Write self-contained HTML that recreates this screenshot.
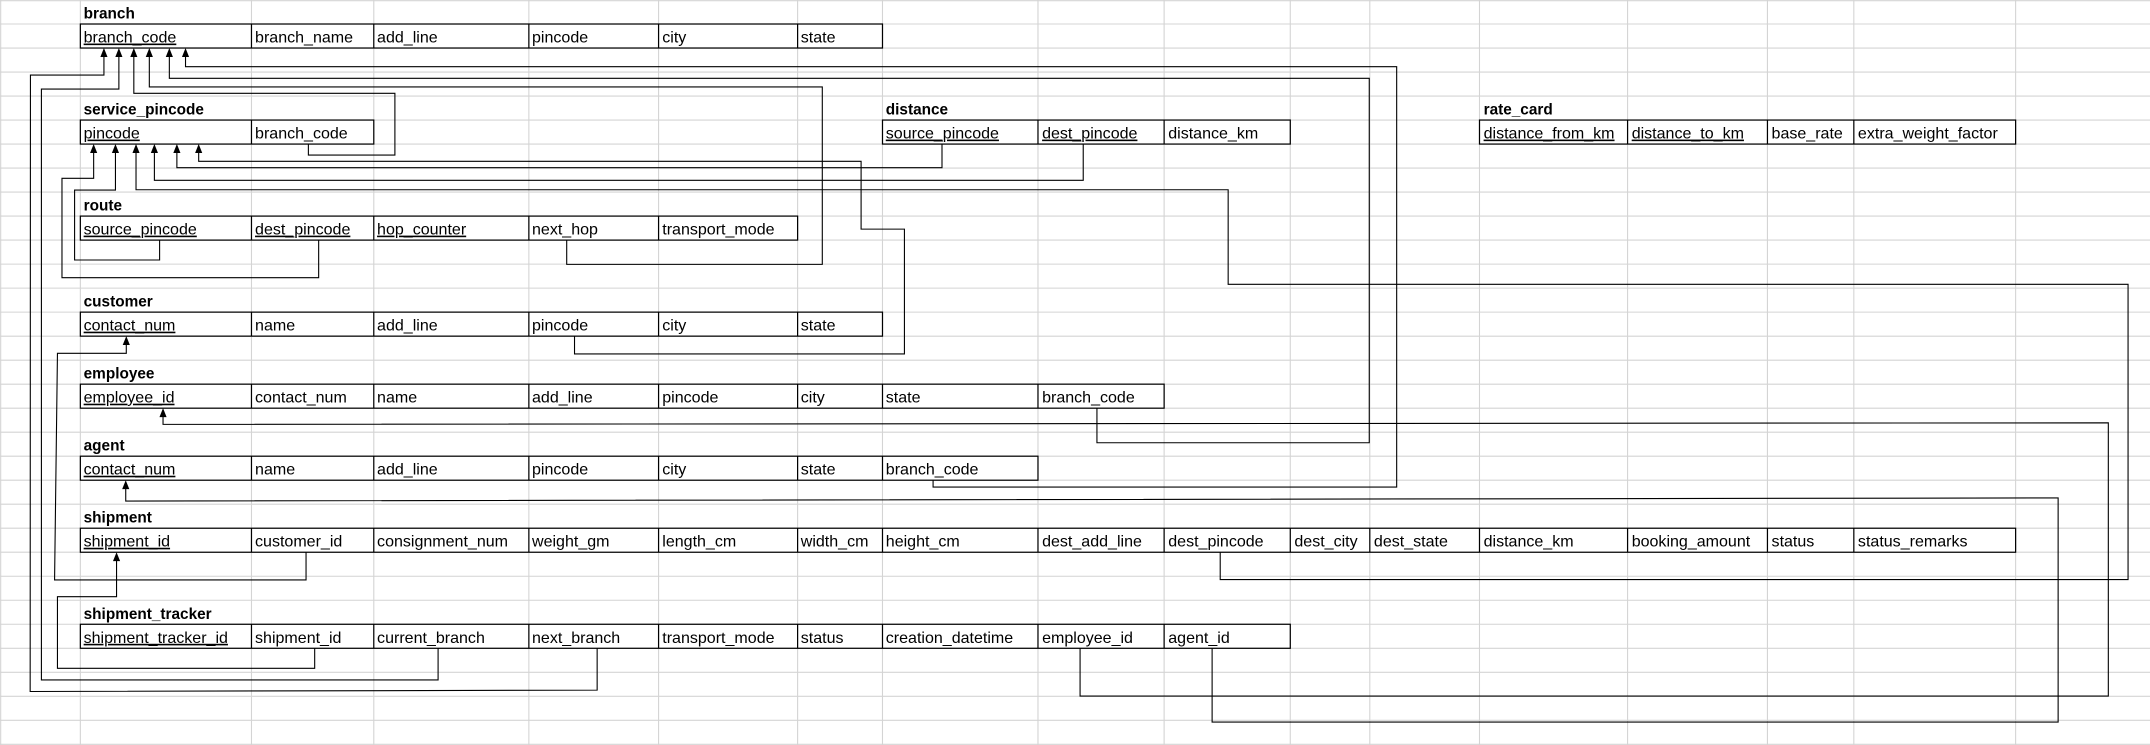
<!DOCTYPE html>
<html><head><meta charset="utf-8"><style>
html,body{margin:0;padding:0;background:#fff;}
svg{display:block;}
text{font-family:"Liberation Sans",Arial,sans-serif;font-size:11.7px;fill:#000;}
.t{font-weight:bold;font-size:11.2px;}
.u{text-decoration:underline;}
.g line{stroke:#d4d4d4;stroke-width:0.8;}
.b rect{fill:none;stroke:#000;stroke-width:0.9;}
.b line{stroke:#000;stroke-width:0.9;}
.c polyline{fill:none;stroke:#000;stroke-width:0.8;}
.c polygon{fill:#000;}
</style></head><body>
<svg width="2150" height="745" viewBox="0 0 1568 543" preserveAspectRatio="none" xmlns="http://www.w3.org/2000/svg">
<rect width="1568" height="543" fill="#fff"/>
<g class="g">
<line x1="0.5" y1="0" x2="0.5" y2="543"/><line x1="58.6" y1="0" x2="58.6" y2="543"/><line x1="183.4" y1="0" x2="183.4" y2="543"/><line x1="272.6" y1="0" x2="272.6" y2="543"/><line x1="385.7" y1="0" x2="385.7" y2="543"/><line x1="480.3" y1="0" x2="480.3" y2="543"/><line x1="581.7" y1="0" x2="581.7" y2="543"/><line x1="643.6" y1="0" x2="643.6" y2="543"/><line x1="757" y1="0" x2="757" y2="543"/><line x1="849" y1="0" x2="849" y2="543"/><line x1="941" y1="0" x2="941" y2="543"/><line x1="999" y1="0" x2="999" y2="543"/><line x1="1079" y1="0" x2="1079" y2="543"/><line x1="1187" y1="0" x2="1187" y2="543"/><line x1="1289" y1="0" x2="1289" y2="543"/><line x1="1352" y1="0" x2="1352" y2="543"/><line x1="1470" y1="0" x2="1470" y2="543"/>
<line x1="0" y1="0.5" x2="1568" y2="0.5"/><line x1="0" y1="17.5" x2="1568" y2="17.5"/><line x1="0" y1="35" x2="1568" y2="35"/><line x1="0" y1="52.5" x2="1568" y2="52.5"/><line x1="0" y1="70" x2="1568" y2="70"/><line x1="0" y1="87.5" x2="1568" y2="87.5"/><line x1="0" y1="105" x2="1568" y2="105"/><line x1="0" y1="122.5" x2="1568" y2="122.5"/><line x1="0" y1="140" x2="1568" y2="140"/><line x1="0" y1="157.5" x2="1568" y2="157.5"/><line x1="0" y1="175" x2="1568" y2="175"/><line x1="0" y1="192.5" x2="1568" y2="192.5"/><line x1="0" y1="210" x2="1568" y2="210"/><line x1="0" y1="227.5" x2="1568" y2="227.5"/><line x1="0" y1="245" x2="1568" y2="245"/><line x1="0" y1="262.5" x2="1568" y2="262.5"/><line x1="0" y1="280" x2="1568" y2="280"/><line x1="0" y1="297.5" x2="1568" y2="297.5"/><line x1="0" y1="315" x2="1568" y2="315"/><line x1="0" y1="332.5" x2="1568" y2="332.5"/><line x1="0" y1="350" x2="1568" y2="350"/><line x1="0" y1="367.5" x2="1568" y2="367.5"/><line x1="0" y1="385" x2="1568" y2="385"/><line x1="0" y1="402.5" x2="1568" y2="402.5"/><line x1="0" y1="420" x2="1568" y2="420"/><line x1="0" y1="437.5" x2="1568" y2="437.5"/><line x1="0" y1="455" x2="1568" y2="455"/><line x1="0" y1="472.5" x2="1568" y2="472.5"/><line x1="0" y1="490" x2="1568" y2="490"/><line x1="0" y1="507.5" x2="1568" y2="507.5"/><line x1="0" y1="525" x2="1568" y2="525"/><line x1="0" y1="542.5" x2="1568" y2="542.5"/>
</g>
<g fill="#fff">
<rect x="58.6" y="17.5" width="585" height="17.5"/><rect x="58.6" y="87.5" width="214" height="17.5"/><rect x="643.6" y="87.5" width="297.4" height="17.5"/><rect x="1079" y="87.5" width="391" height="17.5"/><rect x="58.6" y="157.5" width="523.1" height="17.5"/><rect x="58.6" y="227.5" width="585" height="17.5"/><rect x="58.6" y="280" width="790.4" height="17.5"/><rect x="58.6" y="332.5" width="698.4" height="17.5"/><rect x="58.6" y="385" width="1411.4" height="17.5"/><rect x="58.6" y="455" width="882.4" height="17.5"/>
</g>
<g class="b">
<rect x="58.6" y="17.5" width="585" height="17.5"/><line x1="183.4" y1="17.5" x2="183.4" y2="35"/><line x1="272.6" y1="17.5" x2="272.6" y2="35"/><line x1="385.7" y1="17.5" x2="385.7" y2="35"/><line x1="480.3" y1="17.5" x2="480.3" y2="35"/><line x1="581.7" y1="17.5" x2="581.7" y2="35"/>
<rect x="58.6" y="87.5" width="214" height="17.5"/><line x1="183.4" y1="87.5" x2="183.4" y2="105"/>
<rect x="643.6" y="87.5" width="297.4" height="17.5"/><line x1="757" y1="87.5" x2="757" y2="105"/><line x1="849" y1="87.5" x2="849" y2="105"/>
<rect x="1079" y="87.5" width="391" height="17.5"/><line x1="1187" y1="87.5" x2="1187" y2="105"/><line x1="1289" y1="87.5" x2="1289" y2="105"/><line x1="1352" y1="87.5" x2="1352" y2="105"/>
<rect x="58.6" y="157.5" width="523.1" height="17.5"/><line x1="183.4" y1="157.5" x2="183.4" y2="175"/><line x1="272.6" y1="157.5" x2="272.6" y2="175"/><line x1="385.7" y1="157.5" x2="385.7" y2="175"/><line x1="480.3" y1="157.5" x2="480.3" y2="175"/>
<rect x="58.6" y="227.5" width="585" height="17.5"/><line x1="183.4" y1="227.5" x2="183.4" y2="245"/><line x1="272.6" y1="227.5" x2="272.6" y2="245"/><line x1="385.7" y1="227.5" x2="385.7" y2="245"/><line x1="480.3" y1="227.5" x2="480.3" y2="245"/><line x1="581.7" y1="227.5" x2="581.7" y2="245"/>
<rect x="58.6" y="280" width="790.4" height="17.5"/><line x1="183.4" y1="280" x2="183.4" y2="297.5"/><line x1="272.6" y1="280" x2="272.6" y2="297.5"/><line x1="385.7" y1="280" x2="385.7" y2="297.5"/><line x1="480.3" y1="280" x2="480.3" y2="297.5"/><line x1="581.7" y1="280" x2="581.7" y2="297.5"/><line x1="643.6" y1="280" x2="643.6" y2="297.5"/><line x1="757" y1="280" x2="757" y2="297.5"/>
<rect x="58.6" y="332.5" width="698.4" height="17.5"/><line x1="183.4" y1="332.5" x2="183.4" y2="350"/><line x1="272.6" y1="332.5" x2="272.6" y2="350"/><line x1="385.7" y1="332.5" x2="385.7" y2="350"/><line x1="480.3" y1="332.5" x2="480.3" y2="350"/><line x1="581.7" y1="332.5" x2="581.7" y2="350"/><line x1="643.6" y1="332.5" x2="643.6" y2="350"/>
<rect x="58.6" y="385" width="1411.4" height="17.5"/><line x1="183.4" y1="385" x2="183.4" y2="402.5"/><line x1="272.6" y1="385" x2="272.6" y2="402.5"/><line x1="385.7" y1="385" x2="385.7" y2="402.5"/><line x1="480.3" y1="385" x2="480.3" y2="402.5"/><line x1="581.7" y1="385" x2="581.7" y2="402.5"/><line x1="643.6" y1="385" x2="643.6" y2="402.5"/><line x1="757" y1="385" x2="757" y2="402.5"/><line x1="849" y1="385" x2="849" y2="402.5"/><line x1="941" y1="385" x2="941" y2="402.5"/><line x1="999" y1="385" x2="999" y2="402.5"/><line x1="1079" y1="385" x2="1079" y2="402.5"/><line x1="1187" y1="385" x2="1187" y2="402.5"/><line x1="1289" y1="385" x2="1289" y2="402.5"/><line x1="1352" y1="385" x2="1352" y2="402.5"/>
<rect x="58.6" y="455" width="882.4" height="17.5"/><line x1="183.4" y1="455" x2="183.4" y2="472.5"/><line x1="272.6" y1="455" x2="272.6" y2="472.5"/><line x1="385.7" y1="455" x2="385.7" y2="472.5"/><line x1="480.3" y1="455" x2="480.3" y2="472.5"/><line x1="581.7" y1="455" x2="581.7" y2="472.5"/><line x1="643.6" y1="455" x2="643.6" y2="472.5"/><line x1="757" y1="455" x2="757" y2="472.5"/><line x1="849" y1="455" x2="849" y2="472.5"/>
</g>
<text class="t" x="61" y="13.5">branch</text>
<text class="t" x="61" y="83.5">service_pincode</text>
<text class="t" x="646" y="83.5">distance</text>
<text class="t" x="1082" y="83.5">rate_card</text>
<text class="t" x="61" y="153.5">route</text>
<text class="t" x="61" y="223.5">customer</text>
<text class="t" x="61" y="276">employee</text>
<text class="t" x="61" y="328.5">agent</text>
<text class="t" x="61" y="381">shipment</text>
<text class="t" x="61" y="451">shipment_tracker</text>
<g>
<text class="u" x="61" y="31">branch_code</text><text x="186" y="31">branch_name</text><text x="275" y="31">add_line</text><text x="388" y="31">pincode</text><text x="483" y="31">city</text><text x="584" y="31">state</text>
<text class="u" x="61" y="101">pincode</text><text x="186" y="101">branch_code</text>
<text class="u" x="646" y="101">source_pincode</text><text class="u" x="760" y="101">dest_pincode</text><text x="852" y="101">distance_km</text>
<text class="u" x="1082" y="101">distance_from_km</text><text class="u" x="1190" y="101">distance_to_km</text><text x="1292" y="101">base_rate</text><text x="1355" y="101">extra_weight_factor</text>
<text class="u" x="61" y="171">source_pincode</text><text class="u" x="186" y="171">dest_pincode</text><text class="u" x="275" y="171">hop_counter</text><text x="388" y="171">next_hop</text><text x="483" y="171">transport_mode</text>
<text class="u" x="61" y="241">contact_num</text><text x="186" y="241">name</text><text x="275" y="241">add_line</text><text x="388" y="241">pincode</text><text x="483" y="241">city</text><text x="584" y="241">state</text>
<text class="u" x="61" y="293.5">employee_id</text><text x="186" y="293.5">contact_num</text><text x="275" y="293.5">name</text><text x="388" y="293.5">add_line</text><text x="483" y="293.5">pincode</text><text x="584" y="293.5">city</text><text x="646" y="293.5">state</text><text x="760" y="293.5">branch_code</text>
<text class="u" x="61" y="346">contact_num</text><text x="186" y="346">name</text><text x="275" y="346">add_line</text><text x="388" y="346">pincode</text><text x="483" y="346">city</text><text x="584" y="346">state</text><text x="646" y="346">branch_code</text>
<text class="u" x="61" y="398.5">shipment_id</text><text x="186" y="398.5">customer_id</text><text x="275" y="398.5">consignment_num</text><text x="388" y="398.5">weight_gm</text><text x="483" y="398.5">length_cm</text><text x="584" y="398.5">width_cm</text><text x="646" y="398.5">height_cm</text><text x="760" y="398.5">dest_add_line</text><text x="852" y="398.5">dest_pincode</text><text x="944" y="398.5">dest_city</text><text x="1002" y="398.5">dest_state</text><text x="1082" y="398.5">distance_km</text><text x="1190" y="398.5">booking_amount</text><text x="1292" y="398.5">status</text><text x="1355" y="398.5">status_remarks</text>
<text class="u" x="61" y="468.5">shipment_tracker_id</text><text x="186" y="468.5">shipment_id</text><text x="275" y="468.5">current_branch</text><text x="388" y="468.5">next_branch</text><text x="483" y="468.5">transport_mode</text><text x="584" y="468.5">status</text><text x="646" y="468.5">creation_datetime</text><text x="760" y="468.5">employee_id</text><text x="852" y="468.5">agent_id</text>
</g>
<g class="c">
<polyline points="75.8,40 75.8,54.7 22.2,54.7 22,504 435.5,503 435.5,472.5"/>
<polyline points="86.7,40 86.7,64.9 30.2,64.9 30.2,495.6 319.5,495.6 319.5,472.5"/>
<polyline points="97.6,40 97.6,68 288,68 288,113 224.9,113 224.9,105"/>
<polyline points="108.9,40 108.9,63.4 599.7,63.4 599.7,192.7 413.3,192.7 413.3,175"/>
<polyline points="123.5,40 123.5,57.1 998.6,57.1 998.6,322.7 800,322.7 800,297.5"/>
<polyline points="135.3,40 135.3,48.6 1018.6,48.6 1018.6,355 680.5,355 680.5,350"/>
<polyline points="68.3,110 68.3,130 45.2,130 45.2,202.4 232.4,202.4 232.4,175"/>
<polyline points="84.2,110 84.2,138.5 54.4,138.5 54.4,189.5 116.4,189.5 116.4,175"/>
<polyline points="99.2,110 99.2,138.3 895.7,138.3 895.7,207.2 1552,207.2 1552,422.4 889.9,422.4 889.9,402.5"/>
<polyline points="112.6,110 112.6,131.4 790,131.4 790,105"/>
<polyline points="129,110 129,122.2 687,122.2 687,105"/>
<polyline points="144.9,110 144.9,117.6 628,117.6 628,167 659.6,167 659.6,258 419,258 419,245"/>
<polyline points="92.1,250 92.1,257.5 41.9,257.5 39.8,422.7 223.2,422.7 223.2,402.5"/>
<polyline points="118.9,302.5 118.9,309.3 1537.6,308.2 1537.6,507.3 787.7,507.3 787.7,472.5"/>
<polyline points="91.7,355 91.7,365.2 1501,362.9 1501,526.3 884,526.3 884,472.5"/>
<polyline points="85,407.5 85,434.9 41.9,434.9 41.9,487.1 229.5,487.1 229.5,472.5"/>
<polygon points="75.8,35 73.2,41.5 78.4,41.5"/>
<polygon points="86.7,35 84.1,41.5 89.3,41.5"/>
<polygon points="97.6,35 95,41.5 100.2,41.5"/>
<polygon points="108.9,35 106.3,41.5 111.5,41.5"/>
<polygon points="123.5,35 120.9,41.5 126.1,41.5"/>
<polygon points="135.3,35 132.7,41.5 137.9,41.5"/>
<polygon points="68.3,105 65.7,111.5 70.9,111.5"/>
<polygon points="84.2,105 81.6,111.5 86.8,111.5"/>
<polygon points="99.2,105 96.6,111.5 101.8,111.5"/>
<polygon points="112.6,105 110,111.5 115.2,111.5"/>
<polygon points="129,105 126.4,111.5 131.6,111.5"/>
<polygon points="144.9,105 142.3,111.5 147.5,111.5"/>
<polygon points="92.1,245 89.5,251.5 94.7,251.5"/>
<polygon points="118.9,297.5 116.3,304 121.5,304"/>
<polygon points="91.7,350 89.1,356.5 94.3,356.5"/>
<polygon points="85,402.5 82.4,409 87.6,409"/>
</g>
</svg>
</body></html>
